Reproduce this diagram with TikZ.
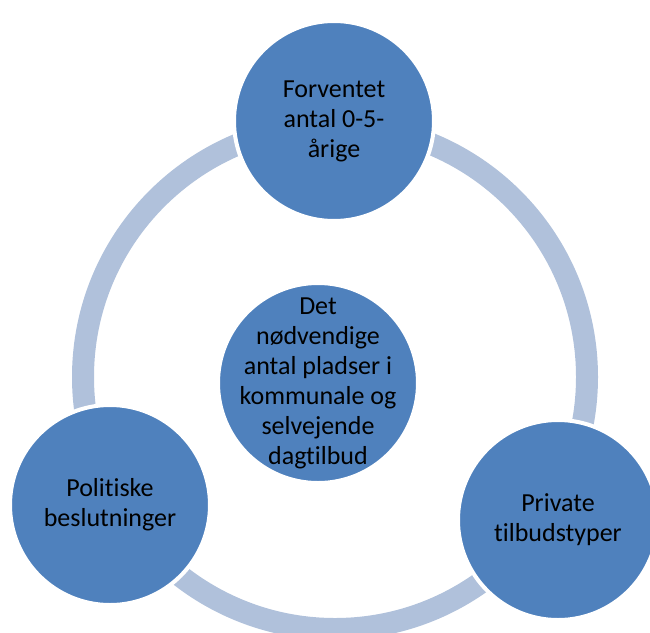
\documentclass[tikz,border=0pt]{standalone}
\usepackage{fontspec}
\setmainfont{Carlito}[Ligatures=NoCommon]
\definecolor{bubblefill}{RGB}{79,129,189}
\definecolor{ringcol}{RGB}{176,193,219}
\begin{document}
\begin{tikzpicture}[
  x=1pt, y=-1pt,
  every node/.style={circle,fill=bubblefill,draw=white,line width=4pt,
    minimum size=200pt,inner sep=-40pt,align=center,text=black,
    font=\fontsize{26}{30}\selectfont},
  ring/.style={draw=ringcol,line width=22pt}
]
  \clip (0,0) rectangle (650,632);
  \draw[ring] (335,377) circle (252);

  \node (aar) at (334,121) {Forventet\\antal 0-5-\\årige};
  \node (mid) at (318,383) {Det\\nødvendige\\antal pladser i\\kommunale og\\selvejende\\dagtilbud};
  \node (pol) at (110,505) {Politiske\\beslutninger};
  \node (priv) at (558,520) {Private\\tilbudstyper};
\end{tikzpicture}
\end{document}
